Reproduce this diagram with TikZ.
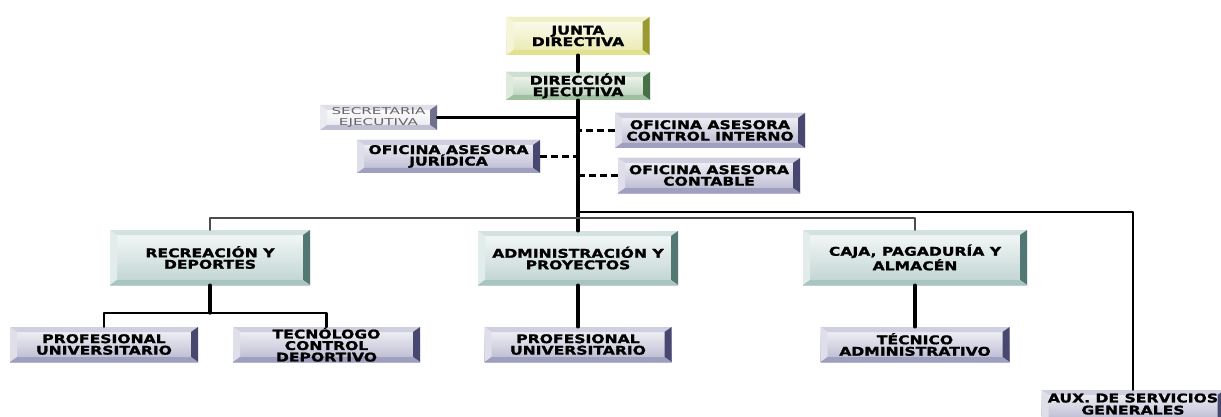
\documentclass[tikz,border=0pt]{standalone}
\usepackage{fontspec}
\usepackage{tikz}
\usetikzlibrary{arrows}
\newfontfamily\orgfont[FakeStretch=1.3,BoldFeatures={FakeBold=1.5}]{DejaVu Sans}
\newfontfamily\secfont[FakeStretch=1.6]{DejaVu Sans}
\definecolor{yelc}{RGB}{205,205,70}
\definecolor{grnc}{RGB}{95,150,95}
\definecolor{tealc}{RGB}{110,158,152}
\definecolor{purc}{RGB}{95,95,150}
\definecolor{secc}{RGB}{150,150,185}
\begin{document}
\begin{tikzpicture}[line cap=round,line join=round,>=triangle 45,x=1pt,y=-1pt,
  bevel/.style={rectangle,inner sep=0pt,align=center,
    font=\orgfont\bfseries\fontsize{12}{11.5}\selectfont,
    top color=#1!6,bottom color=#1!45,
    path picture={
      \path (path picture bounding box.north west) coordinate (pnw)
            (path picture bounding box.north east) coordinate (pne)
            (path picture bounding box.south west) coordinate (psw)
            (path picture bounding box.south east) coordinate (pse);
      \fill[#1!30] (pnw) -- (pne) -- ([shift={(-7pt,-5pt)}]pne) -- ([shift={(7pt,-5pt)}]pnw) -- cycle;
      \fill[#1!20] (pnw) -- ([shift={(7pt,-5pt)}]pnw) -- ([shift={(7pt,5pt)}]psw) -- (psw) -- cycle;
      \fill[#1!75!black] (pne) -- (pse) -- ([shift={(-7pt,5pt)}]pse) -- ([shift={(-7pt,-5pt)}]pne) -- cycle;
      \fill[#1!60] (psw) -- (pse) -- ([shift={(-7pt,5pt)}]pse) -- ([shift={(7pt,5pt)}]psw) -- cycle;
    }},
  secbox/.style={bevel=secc,top color=white,bottom color=secc!22,text=black!60,
    font=\secfont\fontsize{9.5}{10.5}\selectfont},
  link/.style={line width=2.5pt},
  trunk/.style={line width=3.4pt},
  dashlink/.style={line width=2.2pt,dash pattern=on 7pt off 4pt,line cap=butt}]
\useasboundingbox (0,0) rectangle (1221,417);
\clip (0,0) rectangle (1221,417);
% top of the chart
\node[bevel=yelc,minimum width=143,minimum height=38] (junta) at (578,36) {JUNTA\\DIRECTIVA};
\node[bevel=grnc,minimum width=144,minimum height=28] (direccion) at (578,86) {DIRECCIÓN\\EJECUTIVA};
\node[secbox,minimum width=117,minimum height=25] (secretaria) at (378.5,117.5) {SECRETARIA\\EJECUTIVA};
\node[bevel=purc,minimum width=190,minimum height=35] (control) at (710,130.5) {OFICINA ASESORA\\CONTROL INTERNO};
\node[bevel=purc,minimum width=183,minimum height=33] (juridica) at (448.5,156.5) {OFICINA ASESORA\\JURÍDICA};
\node[bevel=purc,minimum width=182,minimum height=35] (contable) at (709,175.5) {OFICINA ASESORA\\CONTABLE};
% areas
\node[bevel=tealc,minimum width=200,minimum height=55] (recreacion) at (210,257.5) {RECREACIÓN Y\\DEPORTES};
\node[bevel=tealc,minimum width=200,minimum height=54] (admin) at (578,258) {ADMINISTRACIÓN Y\\PROYECTOS};
\node[bevel=tealc,minimum width=224,minimum height=55] (caja) at (915,257.5) {CAJA, PAGADURÍA Y\\ALMACÉN};
% cargos
\node[bevel=purc,minimum width=188,minimum height=35] (prof1) at (104,344.5) {PROFESIONAL\\UNIVERSITARIO};
\node[bevel=purc,minimum width=187,minimum height=35] (tecno) at (326.5,344.5) {TECNÓLOGO\\CONTROL\\DEPORTIVO};
\node[bevel=purc,minimum width=187,minimum height=35] (prof2) at (578,344.5) {PROFESIONAL\\UNIVERSITARIO};
\node[bevel=purc,minimum width=189,minimum height=35] (tecnico) at (915,344.5) {TÉCNICO\\ADMINISTRATIVO};
\node[bevel=purc,minimum width=183,minimum height=32] (aux) at (1133,406) {\raisebox{4pt}{\shortstack{AUX. DE SERVICIOS\\GENERALES}}};
\coordinate (hub) at (578,212);
\coordinate (bar) at (578,218);
\coordinate (rsplit) at (210,313);
% lines
\draw[trunk] (junta.south) -- (direccion.north);
\draw[trunk] (direccion.south) -- (admin.north);
\draw[link] (secretaria.east) -- (secretaria.east -| direccion.south);
\draw[dashlink] (control.west) -- (control.west -| direccion.south);
\draw[dashlink] (juridica.east) -- (juridica.east -| direccion.south);
\draw[dashlink] (contable.west) -- (contable.west -| direccion.south);
\draw[link] (hub) -| (aux.north);
\draw[link,black!70] (recreacion.north) |- (bar) -| (caja.north);
\draw[trunk] (recreacion.south) -- (rsplit);
\draw[link] (prof1.north) |- (rsplit) -| (tecno.north);
\draw[trunk] (admin.south) -- (prof2.north);
\draw[trunk] (caja.south) -- (tecnico.north);
\end{tikzpicture}
\end{document}
